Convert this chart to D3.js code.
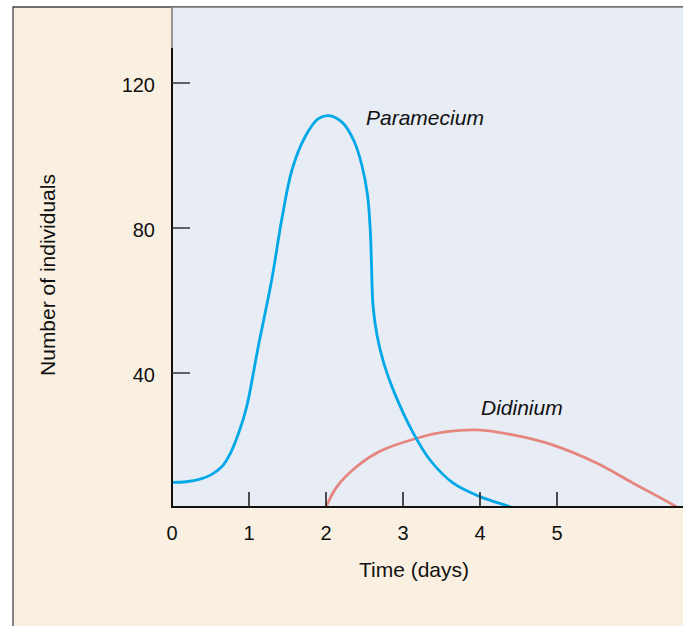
<!DOCTYPE html>
<html>
<head>
<meta charset="utf-8">
<script src="https://cdn.jsdelivr.net/npm/d3@7"></script>
<style>
  html, body { margin: 0; padding: 0; background: #ffffff; }
  text { font-family: "Liberation Sans", Arial, sans-serif; fill: #111; }
</style>
</head>
<body>
<div id="chart"></div>
<script>
// time in days, number of individuals
const parameciumDays = [0, 0.182, 0.364, 0.506, 0.649, 0.766, 0.870, 0.970, 1.117, 1.295, 1.429, 1.558, 1.727, 1.896, 2.030,
    2.208, 2.364, 2.468, 2.539, 2.575, 2.591, 2.610, 2.662, 2.753, 2.883, 3.134, 3.351, 3.653, 4.0, 4.347, 4.416];
const parameciumCounts = [9.8, 10.0, 10.7, 11.9, 14.2, 18.2, 23.7, 30.7, 46.9, 65.7, 82.8, 96.0, 105.1, 110.1, 111.0,
    109.2, 104.0, 97.1, 89.1, 79.4, 69.8, 58.8, 50.5, 42.5, 34.8, 23.4, 16.0, 9.6, 5.9, 3.4, 2.9];

const didiniumDays = [2.0, 2.14, 2.40, 2.70, 3.18, 3.57, 3.96, 4.43, 4.95, 5.52, 5.99, 6.51, 6.55];
const didiniumCounts = [3.0, 8.6, 14.2, 18.4, 22.0, 23.8, 24.3, 22.9, 20.1, 15.1, 9.6, 3.6, 3.0];

const xTicks = [0, 1, 2, 3, 4, 5];
const yTicks = [40, 80, 120];

const width = 683;
const height = 626;
const frame = { left: 13, top: 7 };
const plot = { left: 172, top: 7, right: 683, bottom: 507 };

const x = d3.scaleLinear().domain([0, 1]).range([plot.left, plot.left + 77]);
const y = d3.scaleLinear().domain([0, 120]).range([518, 83]);

const svg = d3.select('#chart')
  .append('svg')
    .attr('width', width)
    .attr('height', height);

// cream panel with frame lines on top and left
svg.append('rect')
    .attr('x', frame.left)
    .attr('y', frame.top)
    .attr('width', width - frame.left)
    .attr('height', height - frame.top)
    .attr('fill', '#faf0e1');

svg.append('path')
    .attr('d', `M${frame.left},${height} V${frame.top} H${width}`)
    .attr('fill', 'none')
    .attr('stroke', '#444')
    .attr('stroke-width', 1.3);

svg.append('rect')
    .attr('x', plot.left)
    .attr('y', plot.top + 0.7)
    .attr('width', plot.right - plot.left)
    .attr('height', plot.bottom - plot.top - 0.7)
    .attr('fill', '#e8ecf5');

svg.append('clipPath')
    .attr('id', 'plot-clip')
  .append('rect')
    .attr('x', plot.left)
    .attr('y', plot.top)
    .attr('width', plot.right - plot.left)
    .attr('height', plot.bottom - plot.top);

// curves
const line = d3.line()
    .x(d => x(d[0]))
    .y(d => y(d[1]))
    .curve(d3.curveCatmullRom.alpha(0.5));

const curves = svg.append('g').attr('clip-path', 'url(#plot-clip)');

curves.append('path')
    .datum(d3.zip(didiniumDays, didiniumCounts))
    .attr('d', line)
    .attr('fill', 'none')
    .attr('stroke', '#e5867e')
    .attr('stroke-width', 2.8);

curves.append('path')
    .datum(d3.zip(parameciumDays, parameciumCounts))
    .attr('d', line)
    .attr('fill', 'none')
    .attr('stroke', '#00a8e8')
    .attr('stroke-width', 2.8);

// y axis: grey stub at the top, then black
svg.append('line')
    .attr('x1', plot.left).attr('x2', plot.left)
    .attr('y1', plot.top).attr('y2', 48)
    .attr('stroke', '#777')
    .attr('stroke-width', 1.5);

svg.append('line')
    .attr('x1', plot.left).attr('x2', plot.left)
    .attr('y1', 48).attr('y2', plot.bottom + 1)
    .attr('stroke', '#111')
    .attr('stroke-width', 2);

svg.append('line')
    .attr('x1', plot.left - 1).attr('x2', plot.right)
    .attr('y1', plot.bottom).attr('y2', plot.bottom)
    .attr('stroke', '#111')
    .attr('stroke-width', 2);

const yAxis = svg.append('g');
yAxis.selectAll('line')
    .data(yTicks).enter()
  .append('line')
    .attr('x1', plot.left).attr('x2', plot.left + 18)
    .attr('y1', d => y(d)).attr('y2', d => y(d))
    .attr('stroke', '#333')
    .attr('stroke-width', 1.5);
yAxis.selectAll('text')
    .data(yTicks).enter()
  .append('text')
    .attr('x', 155)
    .attr('y', d => y(d) + 8.5)
    .attr('text-anchor', 'end')
    .attr('font-size', '20px')
    .text(d => d);

const xAxis = svg.append('g');
xAxis.selectAll('line')
    .data(xTicks.filter(d => d > 0)).enter()
  .append('line')
    .attr('x1', d => x(d)).attr('x2', d => x(d))
    .attr('y1', plot.bottom).attr('y2', plot.bottom - 15)
    .attr('stroke', '#222')
    .attr('stroke-width', 1.6);
xAxis.selectAll('text')
    .data(xTicks).enter()
  .append('text')
    .attr('x', d => x(d))
    .attr('y', 540)
    .attr('text-anchor', 'middle')
    .attr('font-size', '20px')
    .text(d => d);

svg.append('text')
    .attr('x', 414)
    .attr('y', 577)
    .attr('text-anchor', 'middle')
    .attr('font-size', '21px')
    .text('Time (days)');

svg.append('text')
    .attr('transform', 'translate(55, 275) rotate(-90)')
    .attr('text-anchor', 'middle')
    .attr('font-size', '21px')
    .text('Number of individuals');

// series labels
svg.append('text')
    .attr('x', 366)
    .attr('y', 125)
    .attr('font-size', '21px')
    .attr('font-style', 'italic')
    .text('Paramecium');

svg.append('text')
    .attr('x', 481)
    .attr('y', 415)
    .attr('font-size', '21px')
    .attr('font-style', 'italic')
    .text('Didinium');
</script>
</body>
</html>
